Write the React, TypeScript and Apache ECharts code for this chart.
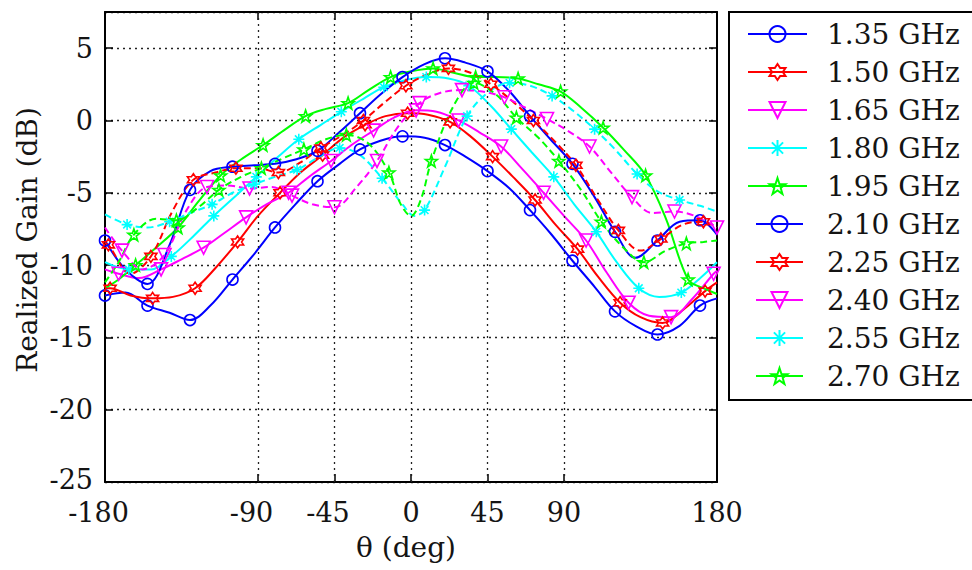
import React, { useEffect, useRef } from "react";
import * as echarts from "echarts";

// ---------- data ----------
const NAMES = ["1.35 GHz", "1.50 GHz", "1.65 GHz", "1.80 GHz", "1.95 GHz", "2.10 GHz", "2.25 GHz", "2.40 GHz", "2.55 GHz", "2.70 GHz"];
const X_LABELS = [-180, -90, -45, 0, 45, 90, 180];
const X_GRID = [-90, -45, 0, 45, 90];
// theta of the first marker of each curve (markers every 25 deg)
const MARK_START = [-180, -177, -172, -166, -162, -180, -178, -170, -167, -163];
const MARK_STEP = 25;

const F135: [number, number][] = [[-180,-12.1],[-168,-11.9],[-155,-12.8],[-142,-13.3],[-130,-13.8],[-118,-12.8],[-105,-11.0],[-92,-9.2],[-80,-7.4],[-68,-5.8],[-55,-4.2],[-42,-3.0],[-30,-2.0],[-18,-1.4],[-5,-1.1],[8,-1.2],[20,-1.7],[32,-2.5],[45,-3.5],[58,-4.7],[70,-6.2],[82,-7.8],[95,-9.7],[108,-11.5],[120,-13.2],[132,-14.2],[145,-14.8],[158,-14.2],[170,-12.8],[180,-12.3]];
const F150: [number, number][] = [[-180,-11.6],[-177,-11.6],[-165,-12.1],[-152,-12.3],[-140,-12.2],[-127,-11.6],[-115,-10.2],[-102,-8.4],[-90,-6.6],[-77,-5.0],[-65,-3.6],[-52,-2.4],[-40,-1.2],[-27,-0.3],[-15,0.3],[-2,0.5],[10,0.4],[23,-0.1],[35,-1.1],[48,-2.5],[60,-3.9],[73,-5.5],[85,-7.2],[98,-8.9],[110,-10.8],[123,-12.6],[135,-13.6],[148,-14.0],[160,-13.1],[173,-11.8],[180,-11.2]];
const F165: [number, number][] = [[-180,-10.3],[-172,-10.6],[-160,-10.9],[-147,-10.3],[-135,-9.6],[-122,-8.8],[-110,-7.8],[-97,-6.7],[-85,-5.8],[-72,-5.0],[-60,-3.9],[-47,-2.8],[-35,-1.7],[-22,-0.7],[-10,0.2],[3,0.7],[15,0.6],[28,0.0],[40,-0.8],[53,-1.8],[65,-3.3],[78,-5.0],[90,-6.6],[103,-8.3],[115,-10.5],[128,-12.6],[140,-13.5],[153,-13.6],[165,-12.4],[178,-10.6],[180,-10.4]];
const F180: [number, number][] = [[-180,-9.8],[-166,-10.3],[-153,-10.3],[-141,-9.4],[-128,-8.0],[-116,-6.6],[-103,-5.2],[-91,-3.9],[-78,-2.5],[-66,-1.3],[-53,-0.3],[-41,0.6],[-28,1.5],[-16,2.3],[-3,2.8],[9,3.0],[22,2.9],[34,2.4],[47,1.0],[59,-0.6],[71,-2.2],[84,-3.9],[96,-5.8],[109,-7.7],[121,-9.8],[134,-11.6],[146,-12.2],[159,-11.9],[171,-10.8],[180,-9.8]];
const F195: [number, number][] = [[-180,-11.6],[-172,-11.0],[-162,-10.0],[-150,-8.8],[-137,-7.4],[-125,-5.6],[-112,-3.8],[-100,-2.7],[-87,-1.7],[-75,-0.7],[-62,0.3],[-50,0.8],[-37,1.2],[-25,2.1],[-12,3.0],[0,3.4],[13,3.6],[25,3.3],[38,3.0],[50,3.0],[63,2.9],[75,2.5],[88,2.0],[100,0.9],[113,-0.5],[125,-2.0],[138,-3.8],[150,-6.8],[163,-11.0],[172,-11.6],[180,-12.0]];
const F210: [number, number][] = [[-180,-8.3],[-168,-10.3],[-155,-11.3],[-142,-8.6],[-130,-4.8],[-118,-3.5],[-105,-3.2],[-92,-3.1],[-80,-3.0],[-68,-2.7],[-55,-2.1],[-42,-0.8],[-30,0.5],[-18,1.8],[-5,3.0],[8,3.9],[20,4.3],[32,4.0],[45,3.4],[58,2.0],[70,0.3],[82,-1.3],[95,-3.0],[108,-5.3],[120,-7.7],[132,-9.5],[145,-8.3],[158,-7.0],[170,-6.9],[180,-7.9]];
const F225: [number, number][] = [[-180,-8.5],[-178,-8.6],[-165,-10.6],[-153,-9.4],[-140,-6.2],[-128,-4.1],[-115,-3.6],[-103,-3.3],[-90,-3.3],[-78,-3.6],[-65,-2.9],[-53,-1.9],[-40,-1.0],[-28,0.0],[-15,1.3],[-3,2.4],[10,3.2],[22,3.6],[35,3.3],[47,2.5],[60,1.3],[72,0.0],[85,-1.5],[97,-3.1],[110,-5.5],[122,-7.6],[135,-9.0],[147,-8.2],[160,-7.2],[172,-7.0],[180,-7.4]];
const F240: [number, number][] = [[-180,-7.4],[-170,-9.0],[-158,-10.3],[-145,-9.3],[-132,-6.2],[-120,-4.6],[-108,-4.5],[-95,-4.7],[-82,-4.6],[-70,-5.2],[-58,-5.8],[-45,-6.0],[-32,-4.6],[-20,-2.8],[-8,-0.5],[5,1.2],[17,1.9],[30,2.1],[42,2.0],[55,1.6],[67,0.9],[80,0.1],[92,-0.7],[105,-1.8],[117,-3.5],[130,-5.3],[142,-6.4],[155,-6.3],[167,-6.6],[180,-7.4]];
const F255: [number, number][] = [[-180,-6.5],[-167,-7.2],[-155,-7.4],[-142,-7.0],[-130,-6.4],[-117,-5.8],[-105,-5.0],[-92,-4.4],[-80,-3.9],[-67,-3.4],[-55,-2.6],[-42,-1.9],[-30,-2.4],[-17,-4.0],[-5,-5.8],[2,-6.6],[8,-6.2],[20,-3.2],[33,0.3],[45,1.9],[58,2.6],[70,2.4],[83,1.7],[95,0.7],[108,-0.6],[120,-2.0],[133,-3.7],[145,-4.9],[158,-5.5],[170,-5.9],[180,-6.3]];
const F270: [number, number][] = [[-180,-11.2],[-172,-9.8],[-163,-7.9],[-150,-6.8],[-138,-6.9],[-125,-6.0],[-113,-4.8],[-100,-3.9],[-88,-3.3],[-75,-2.6],[-63,-2.0],[-50,-1.3],[-38,-1.0],[-25,-1.6],[-13,-3.6],[-6,-5.8],[0,-6.6],[6,-5.4],[12,-2.8],[25,1.0],[37,2.6],[50,1.8],[62,0.2],[75,-1.2],[87,-2.8],[100,-4.8],[112,-7.0],[125,-8.8],[137,-9.8],[150,-9.0],[162,-8.5],[172,-8.4],[180,-8.3]];

const CURVES = [F135, F150, F165, F180, F195, F210, F225, F240, F255, F270];

// ---------- styles ----------
const FONT = "DejaVu Serif";
const FS = 28;
const TFS = 27;
const TXT = "#141414";
const COLORS = ["#0000ff", "#ff0000", "#ff00ff", "#00ffff", "#00ff00", "#0000ff", "#ff0000", "#ff00ff", "#00ffff", "#00ff00"];

function starPath(n: number, rIn: number): string {
  const pts: string[] = [];
  for (let i = 0; i < 2 * n; i++) {
    const r = i % 2 === 0 ? 1 : rIn;
    const a = -Math.PI / 2 + (i * Math.PI) / n;
    pts.push(`${(r * Math.cos(a)).toFixed(3)},${(r * Math.sin(a)).toFixed(3)}`);
  }
  return "path://M" + pts.join("L") + "Z";
}
const SYM_CIRCLE = "circle";
const SYM_HEX = starPath(6, 0.58);
const SYM_TRI = "path://M-1,-0.85L1,-0.85L0,0.85Z";
const SYM_AST = "path://M0,-1L0,1M-1,0L1,0M-0.7,-0.7L0.7,0.7M-0.7,0.7L0.7,-0.7";
const SYM_PENT = starPath(5, 0.4);
const SYMS = [SYM_CIRCLE, SYM_HEX, SYM_TRI, SYM_AST, SYM_PENT, SYM_CIRCLE, SYM_HEX, SYM_TRI, SYM_AST, SYM_PENT];
const SYM_SIZE = [11, 12, 13, 11, 12, 11, 12, 13, 11, 12];
const DASHED = [false, false, false, false, false, false, true, true, true, true];

export default function App() {
  const ref = useRef<HTMLDivElement>(null);
  useEffect(() => {
    if (!ref.current) return;
    const chart = echarts.init(ref.current, undefined, { renderer: "svg" });
    const axisLine = { show: true, onZero: false, lineStyle: { color: "#000", width: 2 } };
    const tickStyle = { color: "#000", width: 1.5 };
    const labelStyle = { fontFamily: FONT, fontSize: TFS, color: TXT, lineHeight: 20 };

    const series: any[] = [
      {
        type: "line",
        name: "__grid",
        data: [],
        z: 1,
        silent: true,
        markLine: {
          silent: true,
          symbol: "none",
          label: { show: false },
          lineStyle: { type: [2, 4], color: "#222", width: 1.3 },
          data: X_GRID.map((v) => ({ xAxis: v })),
        },
      },
    ];
    CURVES.forEach((pts, i) => {
      const c = COLORS[i];
      series.push({
        type: "line",
        name: NAMES[i],
        symbol: SYMS[i],
        symbolSize: SYM_SIZE[i],
        showSymbol: true,
        showAllSymbol: true,
        smooth: 0.35,
        z: 2,
        emphasis: { disabled: true },
        lineStyle: { color: c, width: 2, type: DASHED[i] ? [7, 4] : "solid" },
        itemStyle: { color: "transparent", borderColor: c, borderWidth: 1.6 },
        data: pts.map(([t, g]) => {
          const d = t - MARK_START[i];
          const isMark = d >= 0 && d % MARK_STEP === 0;
          return { value: [t, g], symbol: isMark ? SYMS[i] : "none" };
        }),
      });
    });

    const legendBase = {
      orient: "vertical",
      padding: 0,
      itemGap: 0,
      itemHeight: 20,
      selectedMode: false,
      lineStyle: { type: "solid", width: 2 },
    };

    chart.setOption({
      animation: false,
      backgroundColor: "#fff",
      grid: { left: 105, top: 12, width: 612, height: 470, containLabel: false },
      xAxis: [
        {
          type: "value",
          min: -180,
          max: 180,
          interval: 45,
          position: "bottom",
          axisLine,
          axisTick: { show: true, inside: true, length: 8, lineStyle: tickStyle, customValues: X_GRID },
          axisLabel: {
            ...labelStyle,
            margin: 20,
            customValues: X_LABELS,
            formatter: (v: number) => (X_LABELS.indexOf(v) < 0 ? "" : v < 0 ? `{n|${v}}` : String(v)),
            rich: { n: { fontFamily: FONT, fontSize: TFS, color: TXT, lineHeight: 20, padding: [0, 13, 0, 0] } },
          },
          splitLine: { show: false },
        },
        {
          type: "value",
          min: -180,
          max: 180,
          interval: 45,
          position: "top",
          axisLine,
          axisTick: { show: true, inside: true, length: 8, lineStyle: tickStyle, customValues: X_GRID },
          axisLabel: { show: false },
          splitLine: { show: false },
        },
      ],
      yAxis: [
        {
          type: "value",
          min: -25,
          max: 7.5,
          interval: 5,
          position: "left",
          axisLine,
          axisTick: { show: true, inside: true, length: 8, lineStyle: tickStyle },
          axisLabel: {
            ...labelStyle,
            margin: 12,
            formatter: (v: number) => (v > 5 ? "" : v === -25 ? `{m|${v}}` : String(v)),
            rich: { m: { fontFamily: FONT, fontSize: TFS, color: TXT, lineHeight: 20, padding: [0, 0, 6, 0] } },
          },
          splitLine: { show: true, lineStyle: { type: [2, 4], color: "#222", width: 1.3 } },
        },
        {
          type: "value",
          min: -25,
          max: 7.5,
          interval: 5,
          position: "right",
          axisLine,
          axisTick: { show: true, inside: true, length: 8, lineStyle: tickStyle },
          axisLabel: { show: false },
          splitLine: { show: false },
        },
      ],
      legend: [
        {
          ...legendBase,
          data: NAMES.slice(0, 5),
          left: 747,
          top: 15,
          itemWidth: 59,
          textStyle: { fontFamily: FONT, fontSize: FS, color: TXT, lineHeight: 38, padding: [0, 0, 0, 15] },
        },
        {
          ...legendBase,
          data: NAMES.slice(5),
          left: 755,
          top: 15 + 5 * 38,
          itemWidth: 47,
          textStyle: { fontFamily: FONT, fontSize: FS, color: TXT, lineHeight: 38, padding: [0, 0, 0, 19] },
        },
      ],
      graphic: [
        {
          type: "rect",
          z: 0,
          shape: { x: 729, y: 12, width: 260, height: 388 },
          style: { fill: "#fff", stroke: "#000", lineWidth: 2 },
        },
        {
          type: "text",
          x: 27,
          y: 240,
          rotation: Math.PI / 2,
          style: { text: "Realized Gain (dB)", font: `${FS}px "${FONT}"`, fill: TXT, textAlign: "center", textVerticalAlign: "middle" },
        },
        {
          type: "text",
          x: 406,
          y: 547,
          style: { text: "θ (deg)", font: `${FS}px "${FONT}"`, fill: TXT, textAlign: "center", textVerticalAlign: "middle" },
        },
      ],
      series,
    });
    return () => chart.dispose();
  }, []);
  return <div ref={ref} style={{ position: "fixed", left: 0, top: 0, width: 972, height: 570 }} />;
}
